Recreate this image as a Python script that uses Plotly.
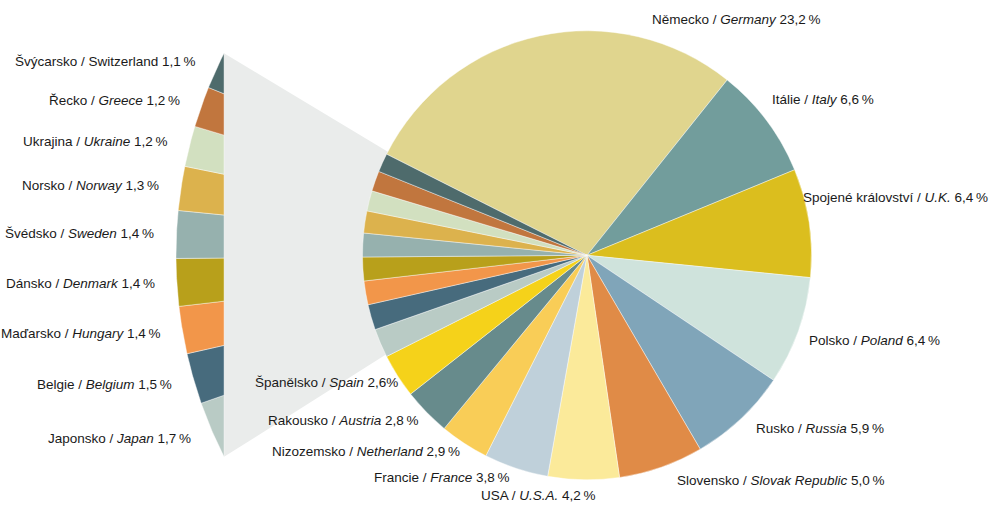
import math
import plotly.graph_objects as go

# ---- data -------------------------------------------------------------
# Large shares, clockwise from Germany
main_cz = ["Německo", "Itálie", "Spojené království", "Polsko", "Rusko",
           "Slovensko", "USA", "Francie", "Nizozemsko", "Rakousko", "Španělsko"]
main_en = ["Germany", "Italy", "U.K.", "Poland", "Russia",
           "Slovak Republic", "U.S.A.", "France", "Netherland", "Austria", "Spain"]
main_val = [23.2, 6.6, 6.4, 6.4, 5.9, 5.0, 4.2, 3.8, 2.9, 2.8, 2.6]

# Small shares, continuing clockwise (shown enlarged in the side strip)
small_cz = ["Japonsko", "Belgie", "Maďarsko", "Dánsko", "Švédsko",
            "Norsko", "Ukrajina", "Řecko", "Švýcarsko"]
small_en = ["Japan", "Belgium", "Hungary", "Denmark", "Sweden",
            "Norway", "Ukraine", "Greece", "Switzerland"]
small_val = [1.7, 1.5, 1.4, 1.4, 1.4, 1.3, 1.2, 1.2, 1.1]

# ---- styling ----------------------------------------------------------
main_colors = ["#E0D58E", "#729D9C", "#DBBE1E", "#CFE3DC", "#80A5B9",
               "#E08B47", "#FBEA9A", "#BFD0DA", "#F9CD57", "#678B8C", "#F5D21A"]
small_colors = ["#B9CBC5", "#476B7D", "#F2964A", "#B8A01B", "#96B1AE",
                "#DCB24D", "#D2E0C0", "#C1763E", "#4E6B6C"]
small_en_italic = [True, True, True, True, True, True, True, True, False]
main_pct_gap = ["\u2009"] * 10 + [""]

# label anchors (x, vertical middle, horizontal anchor) for the main pie, in px
main_label_pos = [(650, 19, "left"), (770, 99, "left"), (990, 197, "right"),
                  (807, 340, "left"), (754, 428, "left"), (675, 480, "left"),
                  (479, 495, "left"), (372, 477, "left"), (270, 451, "left"),
                  (266, 420, "left"), (253, 382, "left")]

FONT = "Liberation Sans, Arial, sans-serif"
FSIZE = 13.5
TXT = "#1a1a1a"
W, H = 992, 506

# geometry (px)
PIE_CX, PIE_CY, PIE_R = 587.0, 255.3, 224.5
STRIP_CX, STRIP_CY, STRIP_R = 624.0, 255.0, 448.0
WEDGE_APEX = (551.0, 250.0)
LABEL_R = STRIP_R + 20


def fmt(v):
    return f"{v:.1f}".replace(".", ",")


total = sum(main_val) + sum(small_val)
deg_per_unit = 360.0 / total
small_span = sum(small_val) * deg_per_unit

# the small group is centred on 9 o'clock; Germany starts right after it
rotation = 270.0 + small_span / 2.0 - 360.0

fig = go.Figure()

# ---- side strip: enlarged wedges of the small shares ------------------
half = small_span / 2.0
chord_d = STRIP_R * math.cos(math.radians(half))
chord_x = STRIP_CX - chord_d

# grey connector from the strip to the pie
top_y = STRIP_CY - STRIP_R * math.sin(math.radians(half))
bot_y = STRIP_CY + STRIP_R * math.sin(math.radians(half))
fig.add_trace(go.Scatter(
    x=[chord_x, WEDGE_APEX[0], chord_x, chord_x],
    y=[top_y, WEDGE_APEX[1], bot_y, top_y],
    fill="toself", fillcolor="#EAECEB", mode="lines",
    line=dict(width=0, color="#EAECEB"), hoverinfo="skip", showlegend=False,
))

annotations = []
phi = -half  # angle from 9 o'clock, positive upward
for cz, en, v, col, ital in zip(small_cz, small_en, small_val, small_colors, small_en_italic):
    a0 = phi
    a1 = phi + v * deg_per_unit
    phi = a1
    xs = [chord_x]
    ys = [STRIP_CY - chord_d * math.tan(math.radians(a0))]
    n = 24
    for k in range(n + 1):
        a = math.radians(a0 + (a1 - a0) * k / n)
        xs.append(STRIP_CX - STRIP_R * math.cos(a))
        ys.append(STRIP_CY - STRIP_R * math.sin(a))
    xs.append(chord_x)
    ys.append(STRIP_CY - chord_d * math.tan(math.radians(a1)))
    xs.append(xs[0])
    ys.append(ys[0])
    fig.add_trace(go.Scatter(
        x=xs, y=ys, fill="toself", fillcolor=col, mode="lines",
        line=dict(width=0.6, color="rgba(255,255,255,0.7)"),
        name=f"{cz} / {en}", hovertemplate=f"{cz} / {en}: {fmt(v)} %<extra></extra>",
        showlegend=False,
    ))
    am = math.radians((a0 + a1) / 2.0)
    en_txt = f"<i>{en}</i>" if ital else en
    annotations.append(dict(
        x=STRIP_CX - LABEL_R * math.cos(am), y=STRIP_CY - LABEL_R * math.sin(am),
        xref="x", yref="y", xanchor="right", yanchor="middle", showarrow=False,
        text=f"{cz} / {en_txt} {fmt(v)}\u2009%",
        font=dict(family=FONT, size=FSIZE, color=TXT),
    ))

# ---- main pie ---------------------------------------------------------
labels = [f"{c} / {e}" for c, e in zip(main_cz + small_cz, main_en + small_en)]
fig.add_trace(go.Pie(
    labels=labels, values=main_val + small_val,
    marker=dict(colors=main_colors + small_colors,
                line=dict(color="rgba(255,255,255,0.7)", width=0.6)),
    sort=False, direction="clockwise", rotation=rotation,
    textinfo="none", hovertemplate="%{label}<extra></extra>",
    showlegend=False,
    domain=dict(x=[(PIE_CX - PIE_R) / W, (PIE_CX + PIE_R) / W],
                y=[(H - PIE_CY - PIE_R) / H, (H - PIE_CY + PIE_R) / H]),
))

for cz, en, v, (lx, ly, anc), gap in zip(main_cz, main_en, main_val, main_label_pos, main_pct_gap):
    annotations.append(dict(
        x=lx, y=ly, xref="x", yref="y", xanchor=anc, yanchor="middle",
        showarrow=False, text=f"{cz} / <i>{en}</i> {fmt(v)}{gap}%",
        font=dict(family=FONT, size=FSIZE, color=TXT),
    ))

fig.update_layout(
    width=W, height=H, margin=dict(l=0, r=0, t=0, b=0),
    paper_bgcolor="white", plot_bgcolor="rgba(0,0,0,0)",
    xaxis=dict(range=[0, W], visible=False, fixedrange=True),
    yaxis=dict(range=[H, 0], visible=False, fixedrange=True),
    annotations=annotations,
)

fig.write_html("out.html")
